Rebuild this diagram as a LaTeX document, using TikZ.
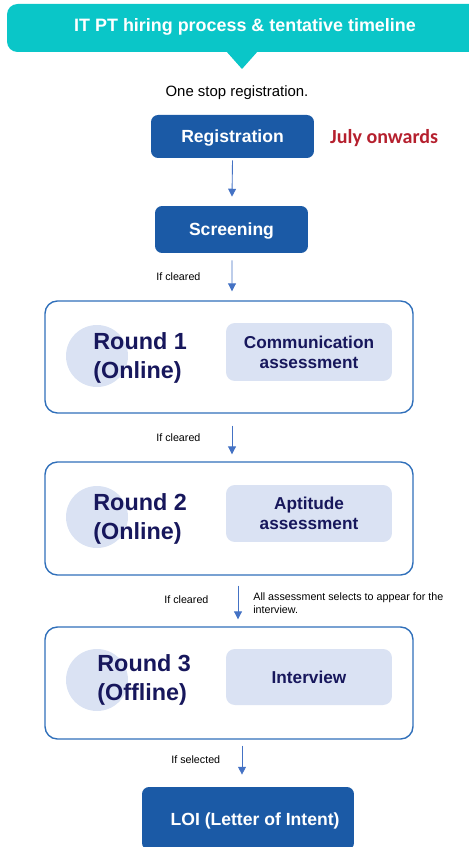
\documentclass[tikz,border=0pt]{standalone}
\usepackage{fontspec}
\setmainfont{Liberation Sans}
\newfontfamily\calibrifont{Carlito}
\usetikzlibrary{calc,arrows.meta}

\definecolor{teal}{HTML}{0AC6C8}
\definecolor{boxblue}{HTML}{1B5AA6}
\definecolor{framblue}{HTML}{2F6FBA}
\definecolor{paleblue}{HTML}{DAE2F3}
\definecolor{navy}{HTML}{17175C}
\definecolor{julyred}{HTML}{B5202E}
\definecolor{arrblue}{HTML}{4472C4}

\tikzset{
  stage/.style={fill=boxblue, rounded corners=4pt, text=white,
    text height=1.4ex, text depth=0pt,
    font=\fontsize{10}{12}\selectfont\bfseries},
  roundframe/.style={draw=framblue, line width=0.8pt, rounded corners=7pt,
    minimum width=7.36cm, minimum height=2.24cm},
  task/.style={fill=paleblue, rounded corners=5pt, minimum width=3.32cm,
    text=navy, align=center, font=\fontsize{9.8}{11.5}\selectfont\bfseries},
  roundtxt/.style={anchor=west, align=left, text=navy, inner sep=0pt,
    font=\fontsize{13.3}{16}\selectfont\bfseries},
  note/.style={anchor=west, inner sep=0pt, font=\fontsize{6.1}{7.4}\selectfont},
  flow/.style={draw=arrblue, -{Triangle[length=4.5pt,width=4.5pt]}, line width=0.5pt}
}

\begin{document}
\begin{tikzpicture}[x=0.02cm, y=-0.02cm]
\useasboundingbox (0,0) rectangle (469,847);
\clip (0,0) rectangle (469,847);

% title callout
\fill [teal, rounded corners=6pt] (7,4) rectangle (490,52);
\fill [teal] (226,51) -- (258,51) -- (242,69) -- cycle;
\node (title) [text=white, font=\fontsize{10.2}{12}\selectfont\bfseries] at (245,27) {IT PT hiring process \& tentative timeline};

\node (onestop) [font=\fontsize{8.5}{10}\selectfont] at (237,93) {One stop registration.};

% registration and screening
\node (reg) [stage, minimum width=3.26cm, minimum height=0.86cm] at (232.5,136.5) {Registration};
\node (july) [anchor=west, text=julyred, font=\calibrifont\fontsize{11.4}{14}\selectfont\bfseries] at (324,138) {July onwards};
\node (scr) [stage, minimum width=3.06cm, minimum height=0.94cm] at (231.5,229.5) {Screening};

% round 1
\node (r1) [roundframe] at (229,357) {};
\fill [paleblue] (97,356) circle (31);
\node (r1txt) [roundtxt] at (93,358) {Round 1\\(Online)};
\node (t1) [task, minimum height=1.16cm] at (309,352) {Communication\\assessment};

% round 2
\node (r2) [roundframe, minimum height=2.26cm] at (229,518.5) {};
\fill [paleblue] (97,517) circle (31);
\node (r2txt) [roundtxt] at (93,519) {Round 2\\(Online)};
\node (t2) [task, minimum height=1.14cm] at (309,513.5) {Aptitude\\assessment};

% round 3
\node (r3) [roundframe] at (229,683) {};
\fill [paleblue] (97,680) circle (31);
\node (r3txt) [roundtxt] at (97,680) {Round 3\\(Offline)};
\node (t3) [task, minimum height=1.12cm] at (309,677) {Interview};

% LOI
\node (loi) [stage, minimum width=4.24cm, minimum height=1.26cm] at (248,818.5) {\hspace{8pt}LOI (Letter of Intent)};

% arrows and labels
\draw [flow] ($(reg.south)+(0,2)$) -- ($(scr.north)+(0.5,-9)$);
\node (c1) [note] at (156,277) {If cleared};
\draw [flow] ($(scr.south)+(0.5,7)$) -- ($(r1.north)+(3,-9)$);
\node (c2) [note] at (156,438) {If cleared};
\draw [flow] ($(r1.south)+(3,12)$) -- ($(r2.north)+(3,-7)$);
\node (c3) [note] at (164,600) {If cleared};
\draw [flow] ($(r2.south)+(9,10)$) -- ($(r3.north)+(9,-7)$);
\node (sel) [note, align=left] at (253,603) {All assessment selects to appear for the\\interview.};
\node (c4) [note] at (171,760) {If selected};
\draw [flow] ($(r3.south)+(13,6)$) -- ($(loi.north)+(-6,-12)$);
\end{tikzpicture}
\end{document}
